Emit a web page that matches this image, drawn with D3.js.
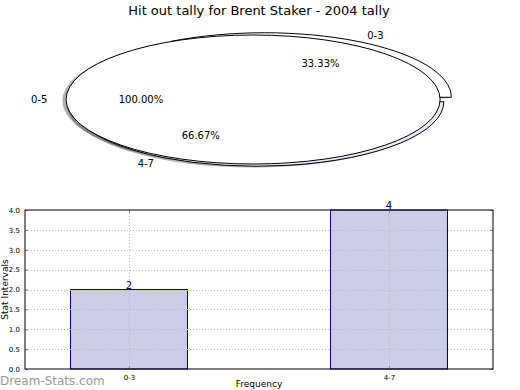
<!DOCTYPE html>
<html lang="en">
  <head>
    <meta charset="utf-8">
    <script src="https://cdn.jsdelivr.net/npm/d3@7/dist/d3.min.js"></script>
    <style>
      body { margin:0; background:#fff; }
      text { font-family: 'DejaVu Sans', sans-serif; }
    </style>
  </head>
  <body>
    <svg class='chart'></svg>
  </body>
  <script type="text/javascript">
    // pie data (percent of a full turn, as drawn)
    var pieLabels = ['0-3', '4-7', '0-5'];
    var piePercents = [33.33, 66.67, 100.00];
    var pieExplode = [0.04, 0.04, 0.04];
    var pieColors = ['#ffffff', '#e6ebf8', '#ffffff'];

    // bar data
    var barCategories = ['0-3', '4-7'];
    var barValues = [2, 4];
    var yTicks = [0, 0.5, 1, 1.5, 2, 2.5, 3, 3.5, 4];

    var svg = d3.select('.chart')
                .attr('width', 520)
                .attr('height', 390);

    svg.append('text')
       .attr('x', 259).attr('y', 15)
       .attr('text-anchor', 'middle')
       .style('font-size', '13px')
       .text('Hit out tally for Brent Staker - 2004 tally');

    // ---- pie ----
    var cx = 260.6, cy = 99.5, rx = 187, ry = 64.5;
    var px = d3.scaleLinear().domain([-1, 1]).range([cx - rx, cx + rx]);
    var py = d3.scaleLinear().domain([-1, 1]).range([cy + ry, cy - ry]);

    var ends = d3.cumsum(piePercents);
    var wedges = piePercents.map(function(v, i) {
      var a1 = (ends[i] - v) / 100 * 2 * Math.PI;
      var a2 = ends[i] / 100 * 2 * Math.PI;
      var am = (a1 + a2) / 2;
      return {
        label: pieLabels[i], pct: v, color: pieColors[i],
        a1: a1, a2: a2, am: am,
        ox: pieExplode[i] * Math.cos(am),
        oy: pieExplode[i] * Math.sin(am)
      };
    });

    // wedge path in unit coords, y up (the group flips y)
    var wedgePath = function(d, dx, dy) {
      var p = d3.path();
      var x0 = d.ox + dx, y0 = d.oy + dy;
      if (d.a2 - d.a1 < 2 * Math.PI - 1e-6) p.moveTo(x0, y0);
      p.arc(x0, y0, 1, d.a1, d.a2, false);
      p.closePath();
      return p.toString();
    };

    var pie = svg.append('g')
                 .attr('transform', 'translate(' + cx + ',' + cy + ') scale(' + rx + ',' + (-ry) + ')');

    pie.selectAll('path.shadow')
       .data(wedges).enter()
       .append('path').classed('shadow', true)
       .attr('d', function(d) { return wedgePath(d, -0.02, -0.02); })
       .attr('fill', '#4d4d4d')
       .attr('fill-opacity', 0.45);

    pie.selectAll('path.wedge')
       .data(wedges).enter()
       .append('path').classed('wedge', true)
       .attr('d', function(d) { return wedgePath(d, 0, 0); })
       .attr('fill', function(d) { return d.color; })
       .attr('stroke', '#000')
       .attr('stroke-width', 1)
       .attr('vector-effect', 'non-scaling-stroke');

    svg.selectAll('text.plabel')
       .data(wedges).enter()
       .append('text').classed('plabel', true)
       .attr('x', function(d) { return px(d.ox + 1.1 * Math.cos(d.am)); })
       .attr('y', function(d) { return py(d.oy + 1.1 * Math.sin(d.am)); })
       .attr('dy', '0.35em')
       .attr('text-anchor', function(d) { return Math.cos(d.am) > 0 ? 'start' : 'end'; })
       .style('font-size', '10px')
       .text(function(d) { return d.label; });

    svg.selectAll('text.pct')
       .data(wedges).enter()
       .append('text').classed('pct', true)
       .attr('x', function(d) { return px(d.ox + 0.6 * Math.cos(d.am)); })
       .attr('y', function(d) { return py(d.oy + 0.6 * Math.sin(d.am)); })
       .attr('dy', '0.35em')
       .attr('text-anchor', 'middle')
       .style('font-size', '10px')
       .text(function(d) { return d.pct.toFixed(2) + '%'; });

    // ---- bars ----
    var margins = { top: 210, left: 25, right: 27, bottom: 21 };
    var width = 520 - margins.left - margins.right;
    var height = 390 - margins.top - margins.bottom;

    var xScale = d3.scaleLinear().domain([-0.4, 1.4]).range([0, width]);
    var yScale = d3.scaleLinear().domain([0, 4]).range([height, 0]);
    var barW = 0.45;

    var plot = svg.append('g')
                  .attr('transform', 'translate(' + margins.left + ',' + margins.top + ')');

    plot.selectAll('rect.bar')
        .data(barValues).enter()
        .append('rect').classed('bar', true)
        .attr('x', function(d, i) { return xScale(i - barW / 2); })
        .attr('width', function(d, i) { return xScale(i + barW / 2) - xScale(i - barW / 2); })
        .attr('y', function(d) { return yScale(d); })
        .attr('height', function(d) { return yScale(0) - yScale(d); })
        .attr('fill', '#ccccE6')
        .attr('stroke', '#000080')
        .attr('stroke-width', 1);

    // grid
    plot.selectAll('line.hgrid')
        .data(yTicks.slice(1, -1)).enter()
        .append('line').classed('hgrid', true)
        .attr('x1', 0).attr('x2', width)
        .attr('y1', function(d) { return Math.round(yScale(d)) + 0.5; })
        .attr('y2', function(d) { return Math.round(yScale(d)) + 0.5; })
        .attr('stroke', '#b8b8b8').attr('stroke-dasharray', '1,2');
    plot.selectAll('line.vgrid')
        .data(barCategories).enter()
        .append('line').classed('vgrid', true)
        .attr('x1', function(d, i) { return Math.round(xScale(i)) + 0.5; })
        .attr('x2', function(d, i) { return Math.round(xScale(i)) + 0.5; })
        .attr('y1', 0).attr('y2', height)
        .attr('stroke', '#b8b8b8').attr('stroke-dasharray', '1,2');

    plot.selectAll('text.val')
        .data(barValues).enter()
        .append('text').classed('val', true)
        .attr('x', function(d, i) { return xScale(i); })
        .attr('y', function(d) { return yScale(d) - 1; })
        .attr('text-anchor', 'middle')
        .attr('fill', '#000080')
        .style('font-size', '10px')
        .text(function(d) { return d; });

    var yAxis = d3.axisLeft(yScale).tickValues(yTicks).tickSize(-3).tickPadding(5)
                  .tickFormat(d3.format('.1f'));
    var gy = plot.append('g').call(yAxis);
    var yAxisR = d3.axisRight(yScale).tickValues(yTicks).tickSize(-3).tickFormat('');
    var gyr = plot.append('g').attr('transform', 'translate(' + width + ',0)').call(yAxisR);
    var xAxis = d3.axisBottom(xScale).tickValues([0, 1]).tickSize(-3).tickPadding(6)
                  .tickFormat(function(d) { return barCategories[d]; });
    var gx = plot.append('g').attr('transform', 'translate(0,' + height + ')').call(xAxis);
    var xAxisT = d3.axisTop(xScale).tickValues([0, 1]).tickSize(-3).tickFormat('');
    var gxt = plot.append('g').call(xAxisT);

    [gy, gyr, gx, gxt].forEach(function(g) {
      g.select('.domain').remove();
      g.selectAll('.tick line').attr('stroke', '#888');
      g.selectAll('.tick text').style('font-size', '7px').attr('fill', '#000')
       .style('font-family', "'DejaVu Sans', sans-serif");
    });

    plot.append('rect')
        .attr('x', 0).attr('y', 0)
        .attr('width', width).attr('height', height)
        .attr('fill', 'none').attr('stroke', '#000').attr('stroke-width', 1);

    svg.append('text')
       .attr('transform', 'translate(8,' + (margins.top + height / 2) + ') rotate(-90)')
       .attr('text-anchor', 'middle')
       .style('font-size', '9px')
       .text('Stat Intervals');

    svg.append('text')
       .attr('x', margins.left + width / 2).attr('y', 387)
       .attr('text-anchor', 'middle')
       .style('font-size', '9px')
       .text('Frequency');

    svg.append('text')
       .attr('x', 0).attr('y', 385)
       .attr('fill', '#999')
       .style('font-size', '12px')
       .text('Dream-Stats.com');
  </script>
</html>
